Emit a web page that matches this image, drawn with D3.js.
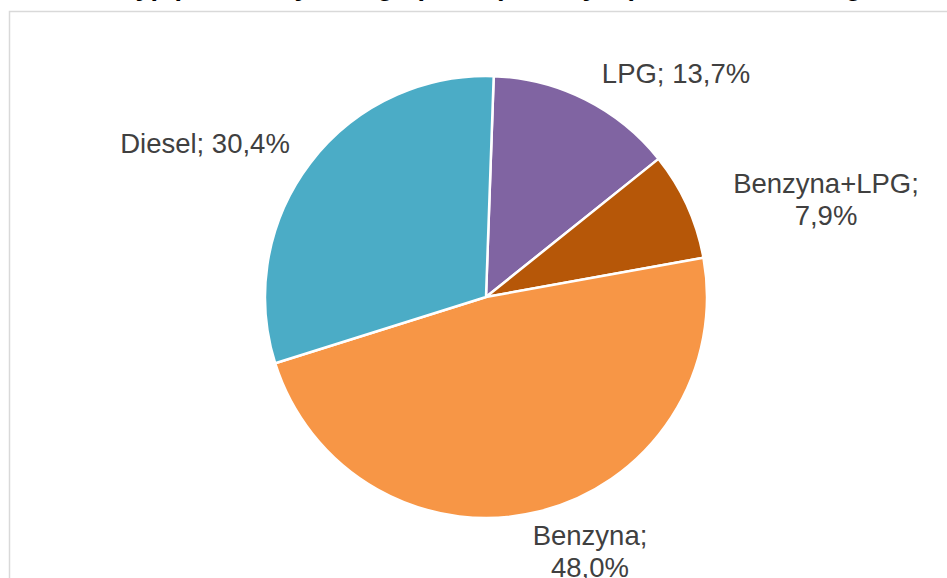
<!DOCTYPE html>
<html>
<head>
<meta charset="utf-8">
<script src="https://cdn.jsdelivr.net/npm/d3@7"></script>
<style>
  html, body { margin: 0; padding: 0; background: #fff; }
  svg { display: block; font-family: "Liberation Sans", Arial, sans-serif; }
</style>
</head>
<body>
<div id="main-chart"></div>
<script>
// data, clockwise from the top
const categories = ["LPG", "Benzyna+LPG", "Benzyna", "Diesel"];
const shares = [13.7, 7.9, 48.0, 30.4];
const labelLines = [["LPG; 13,7%"], ["Benzyna+LPG;", "7,9%"], ["Benzyna;", "48,0%"], ["Diesel; 30,4%"]];
const sliceColors = ["#8064a2", "#b65708", "#f79646", "#4bacc6"];

const width = 947, height = 578;
const cx = 486, cy = 297, radius = 221;
// label anchors relative to pie centre (first baseline)
const labelOffsets = [[190, -214], [340, -104], [104, 248], [-281, -144]];

const svg = d3.select("#main-chart")
    .append("svg")
    .attr("width", width)
    .attr("height", height);

// chart area border (runs off the right and bottom)
svg.append("rect")
    .attr("x", 9.5)
    .attr("y", 11.5)
    .attr("width", width)
    .attr("height", height)
    .attr("fill", "none")
    .attr("stroke", "#d9d9d9")
    .attr("stroke-width", 1.5);

// title, mostly cut off at top
svg.append("text")
    .attr("x", 121)
    .attr("y", -5)
    .attr("font-size", 27)
    .attr("font-weight", "bold")
    .attr("fill", "#000")
    .text("Typ paliwa używanego przez (badanych) kierowców w regionie");

const data = categories.map((c, i) => ({ label: c, value: shares[i], color: sliceColors[i], lines: labelLines[i], off: labelOffsets[i] }));

const start = 2 * Math.PI / 180;
const pie = d3.pie().sort(null).value(d => d.value)
    .startAngle(start).endAngle(start + 2 * Math.PI);
const arc = d3.arc().innerRadius(0).outerRadius(radius);

const g = svg.append("g").attr("transform", `translate(${cx},${cy})`);

g.selectAll("path")
    .data(pie(data))
    .enter().append("path")
    .attr("d", arc)
    .attr("fill", d => d.data.color)
    .attr("stroke", "#fff")
    .attr("stroke-width", 2.5)
    .attr("stroke-linejoin", "round");

const labels = g.selectAll("text.label")
    .data(data)
    .enter().append("text")
    .attr("class", "label")
    .attr("text-anchor", "middle")
    .attr("font-size", 27.5)
    .attr("fill", "#404040");

labels.each(function (d) {
    d3.select(this).selectAll("tspan")
        .data(d.lines)
        .enter().append("tspan")
        .attr("x", d.off[0])
        .attr("y", (l, i) => d.off[1] + i * 32)
        .text(l => l);
});
</script>
</body>
</html>
